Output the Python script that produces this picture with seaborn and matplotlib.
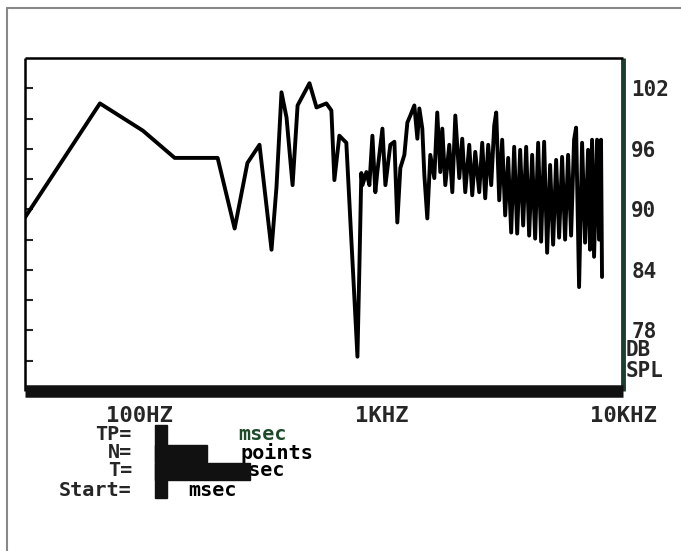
import numpy as np
import pandas as pd
import matplotlib
matplotlib.use('Agg')
import matplotlib.pyplot as plt
import seaborn as sns
from matplotlib.patches import Rectangle
from matplotlib.lines import Line2D

# frequency response (Hz, dB SPL)
freq_hz = [33.5, 68.4, 103, 139.5, 210, 247, 279, 313, 351, 368,
           386, 405, 429, 450, 504, 539, 592, 621, 639, 670,
           716, 751, 773, 796, 811, 826,
           835, 867, 892, 918, 944, 962, 1010, 1039, 1089, 1132,
           1164, 1198, 1245, 1281, 1318, 1369, 1409, 1436, 1477, 1506,
           1549, 1594, 1656, 1703, 1753, 1787, 1839, 1910, 1966, 2023,
           2101, 2161, 2224, 2310, 2377, 2446, 2541,
           2614, 2690, 2768, 2848, 2931, 2987, 3074, 3162, 3254, 3348,
           3445, 3545, 3648, 3753, 3862, 3974, 4089, 4207, 4329, 4455,
           4583, 4716, 4853, 4993, 5138, 5287, 5440, 5597, 5759, 5926,
           6098, 6274, 6395, 6580, 6771, 6967, 7169, 7305, 7446, 7590,
           7809, 7957, 8110, 8188]
spl_db = [89.2, 100.5, 97.8, 95.1, 95.1, 88.1, 94.6, 96.4, 86.0, 92.2,
          101.6, 99.1, 92.4, 100.3, 102.5, 100.1, 100.5, 99.8, 92.9, 97.3,
          96.6, 87.0, 81.3, 75.4, 84.3, 93.6,
          92.4, 93.7, 92.4, 97.3, 91.7, 93.7, 98.0, 92.4, 96.4, 96.7,
          88.7, 94.1, 95.4, 98.6, 99.3, 100.3, 97.0, 100.0, 98.0, 93.4,
          89.1, 95.4, 93.1, 99.6, 93.7, 98.0, 92.4, 96.4, 91.7, 99.3,
          93.1, 97.0, 91.7, 96.4, 91.4, 95.7, 91.7,
          96.6, 91.1, 96.4, 92.4, 98.3, 99.6, 90.9, 96.9, 89.4, 95.1,
          87.7, 96.2, 87.6, 95.9, 88.4, 96.2, 87.4, 95.4, 87.1, 96.6,
          86.8, 96.7, 85.7, 94.4, 86.5, 94.9, 87.2, 95.2, 87.0, 95.4,
          87.4, 96.9, 98.1, 82.3, 96.6, 86.7, 95.9, 86.0, 96.9, 85.3,
          96.9, 87.0, 96.9, 83.3]

db_ticks = [78, 84, 90, 96, 102]
freq_ticks = [100, 1000, 10000]
freq_labels = ['100HZ', '1KHZ', '10KHZ']

# readout lines under the plot: label, unit
param_labels = ['TP=', 'N=', 'T=', 'Start=']
param_units = ['msec', 'points', 'msec', 'msec']

df = pd.DataFrame({'freq': freq_hz, 'spl': spl_db})

sns.set_style('white')
plt.rcParams['font.family'] = ['DejaVu Sans Mono', 'DejaVu Sans']
plt.rcParams['font.weight'] = 'bold'

W, H = 681, 551
fig = plt.figure(figsize=(6.81, 5.51), dpi=100)
ax = fig.add_axes([25 / W, 1 - 391 / H, 598 / W, 333 / H])

sns.lineplot(data=df, x='freq', y='spl', ax=ax, color='black', lw=2.8,
             sort=False, estimator=None)
ax.set_xscale('log')
ax.set_xlim(33.5, 9906)
ax.set_ylim(72.0, 105.0)
ax.set_xlabel('')
ax.set_ylabel('')

ax.set_xticks(freq_ticks)
ax.set_xticklabels(freq_labels, fontsize=16, fontweight='bold')
ax.xaxis.set_minor_locator(matplotlib.ticker.NullLocator())
ax.tick_params(axis='x', length=0, pad=11)

ax.set_yticks(db_ticks)
ax.set_yticklabels([str(v) for v in db_ticks], fontsize=15, fontweight='bold')
ax.set_yticks(np.arange(75, 105, 3), minor=True)
ax.tick_params(axis='y', which='both', left=True, right=False,
               labelleft=False, labelright=True, direction='in',
               length=6, width=1.5, pad=6)

for side, lw, col in [('top', 1.8, 'black'), ('left', 1.8, 'black'),
                      ('bottom', 9, '#111111'), ('right', 3.5, '#1f3d2c')]:
    ax.spines[side].set_visible(True)
    ax.spines[side].set_linewidth(lw)
    ax.spines[side].set_color(col)
    ax.spines[side].set_capstyle('butt')

fig.text(626 / W, 1 - 350 / H, 'DB', fontsize=15, fontweight='bold',
         ha='left', va='center')
fig.text(626 / W, 1 - 371 / H, 'SPL', fontsize=15, fontweight='bold',
         ha='left', va='center')

# parameter readout
row_y = [434, 453, 471, 490]
unit_x = [238, 240, 236, 188]
unit_col = ['#1e4a2a', 'black', 'black', 'black']
for lab, unit, y, ux, uc in zip(param_labels, param_units, row_y, unit_x, unit_col):
    fig.text(132 / W, 1 - y / H, lab, fontsize=14.5, fontweight='bold',
             ha='right', va='center')
    fig.text(ux / W, 1 - y / H, unit, fontsize=14.5, fontweight='bold',
             ha='left', va='center', color=uc)

# blacked-out values
boxes = [(155, 425, 12, 73), (155, 445, 52, 17), (155, 463, 95, 17)]
for bx, by, bw, bh in boxes:
    fig.patches.append(Rectangle((bx / W, 1 - (by + bh) / H), bw / W, bh / H,
                                 transform=fig.transFigure, color='#111111',
                                 zorder=5))

# scan border
fig.add_artist(Line2D([7 / W, 7 / W], [0, 1 - 8 / H], color='#888888', lw=1.5))
fig.add_artist(Line2D([7 / W, 1], [1 - 8 / H, 1 - 8 / H], color='#888888', lw=1.5))

fig.savefig('out.png', dpi=100)
